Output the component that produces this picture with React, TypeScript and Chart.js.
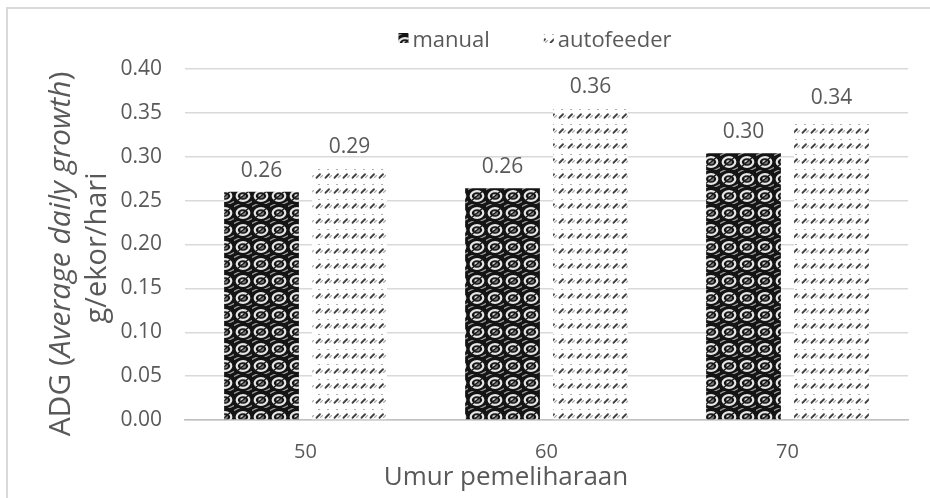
import { useEffect, useRef } from "react";
import { Chart, registerables } from "chart.js";

Chart.register(...registerables);

const categories = ["50", "60", "70"];
const seriesNames = ["manual", "autofeeder"];
const manualValues = [0.26, 0.264, 0.304];
const autofeederValues = [0.287, 0.356, 0.343];
const yMin = 0;
const yMax = 0.4;
const yStep = 0.05;
const xTitle = "Umur pemeliharaan";
const yTitleParts = ["ADG (", "Average daily growth", ")"];
const yTitleLine2 = "g/ekor/hari";

const FONT = "'Open Sans', 'Noto Sans', sans-serif";
const TEXT = "#595959";

function makeManualPattern(): CanvasPattern | string {
  const c = document.createElement("canvas");
  c.width = 18;
  c.height = 17;
  const g = c.getContext("2d");
  if (!g) return "#333";
  g.fillStyle = "#141414";
  g.fillRect(0, 0, 18, 17);
  g.strokeStyle = "#e6e6e6";
  g.lineWidth = 2.2;
  g.beginPath();
  g.ellipse(9, 9, 6.3, 4.8, 0, 0, Math.PI * 2);
  g.stroke();
  g.fillStyle = "#7a7a7a";
  g.beginPath();
  g.ellipse(9, 9, 3, 2.3, 0, 0, Math.PI * 2);
  g.fill();
  g.fillStyle = "#f2f2f2";
  g.beginPath();
  g.ellipse(8.3, 8.4, 1.3, 1, 0, 0, Math.PI * 2);
  g.fill();
  g.strokeStyle = "#9a9a9a";
  g.lineWidth = 1.3;
  g.beginPath();
  g.moveTo(-2, 3.5);
  g.lineTo(8, -1.5);
  g.moveTo(10, 18.5);
  g.lineTo(20, 13.5);
  g.stroke();
  g.strokeStyle = "#1a1a1a";
  g.lineWidth = 1.5;
  g.beginPath();
  g.moveTo(2.5, 14.5);
  g.lineTo(15.5, 3.5);
  g.stroke();
  const p = g.createPattern(c, "repeat");
  return p || "#333";
}

function makeAutoPattern(): CanvasPattern | string {
  const c = document.createElement("canvas");
  c.width = 18;
  c.height = 15;
  const g = c.getContext("2d");
  if (!g) return "#eee";
  g.fillStyle = "#ffffff";
  g.fillRect(0, 0, 18, 15);
  g.lineCap = "round";
  const mark = (x: number, y: number, col: string, w: number, len: number) => {
    g.strokeStyle = col;
    g.lineWidth = w;
    g.beginPath();
    g.moveTo(x, y + len / 2);
    g.lineTo(x + len, y - len / 2);
    g.stroke();
  };
  mark(1.5, 11, "#404040", 1.8, 3.5);
  mark(10.5, 11, "#404040", 1.8, 3.5);
  mark(5.5, 11.5, "#aaaaaa", 1.1, 2);
  mark(14.5, 11.5, "#aaaaaa", 1.1, 2);
  g.fillStyle = "#b0b0b0";
  g.fillRect(3, 4, 2, 1);
  g.fillRect(12, 4, 2, 1);
  const p = g.createPattern(c, "repeat");
  return p || "#eee";
}

export default function App() {
  const ref = useRef<HTMLCanvasElement | null>(null);

  useEffect(() => {
    document.body.style.margin = "0";
    const canvas = ref.current;
    if (!canvas) return;
    const manualPat = makeManualPattern();
    const autoPat = makeAutoPattern();

    const framePlugin = {
      id: "frame",
      beforeDraw(chart: any) {
        const ctx = chart.ctx;
        ctx.save();
        ctx.fillStyle = "#ffffff";
        ctx.fillRect(0, 0, chart.width, chart.height);
        ctx.strokeStyle = "#d9d9d9";
        ctx.lineWidth = 2;
        ctx.strokeRect(7, 8, 2000, 2000);
        ctx.restore();
      },
    };

    const labelsPlugin = {
      id: "valueLabels",
      afterDatasetsDraw(chart: any) {
        const ctx = chart.ctx;
        ctx.save();
        ctx.font = `21px ${FONT}`;
        ctx.fillStyle = TEXT;
        ctx.textAlign = "center";
        ctx.textBaseline = "alphabetic";
        chart.data.datasets.forEach((ds: any, i: number) => {
          const meta = chart.getDatasetMeta(i);
          meta.data.forEach((el: any, j: number) => {
            const v = ds.data[j] as number;
            ctx.fillText(v.toFixed(2), el.x, el.y - 15);
          });
        });
        ctx.restore();
      },
    };

    const legendPlugin = {
      id: "customLegend",
      afterDraw(chart: any) {
        const ctx = chart.ctx;
        ctx.save();
        ctx.font = `22px ${FONT}`;
        ctx.textBaseline = "alphabetic";
        ctx.textAlign = "left";
        const box = 10;
        const gap = 4;
        const spacing = 54;
        const fills = [manualPat, autoPat];
        const widths = seriesNames.map((n) => ctx.measureText(n).width);
        const total =
          widths.reduce((a, b) => a + b, 0) + seriesNames.length * (box + gap) + spacing;
        let x = 535 - total / 2;
        const yBase = 47;
        seriesNames.forEach((n, i) => {
          ctx.fillStyle = fills[i];
          ctx.fillRect(x, 33, box, box);
          x += box + gap;
          ctx.fillStyle = TEXT;
          ctx.fillText(n, x, yBase);
          x += widths[i] + spacing;
        });
        ctx.restore();
      },
    };

    const titlesPlugin = {
      id: "axisTitles",
      afterDraw(chart: any) {
        const ctx = chart.ctx;
        ctx.save();
        ctx.fillStyle = TEXT;
        ctx.font = `26px ${FONT}`;
        ctx.textAlign = "center";
        ctx.textBaseline = "alphabetic";
        ctx.fillText(xTitle, 506, 485);
        ctx.restore();

        ctx.save();
        ctx.fillStyle = TEXT;
        ctx.textBaseline = "alphabetic";
        ctx.textAlign = "left";
        const size = 30;
        const fonts = [
          `${size}px ${FONT}`,
          `italic ${size}px ${FONT}`,
          `${size}px ${FONT}`,
        ];
        const ws = yTitleParts.map((t, i) => {
          ctx.font = fonts[i];
          return ctx.measureText(t).width;
        });
        const totalW = ws.reduce((a, b) => a + b, 0);
        ctx.translate(70, 254);
        ctx.rotate(-Math.PI / 2);
        let x = -totalW / 2;
        yTitleParts.forEach((t, i) => {
          ctx.font = fonts[i];
          ctx.fillText(t, x, 0);
          x += ws[i];
        });
        ctx.restore();

        ctx.save();
        ctx.fillStyle = TEXT;
        ctx.font = `29px ${FONT}`;
        ctx.textAlign = "center";
        ctx.textBaseline = "alphabetic";
        ctx.translate(106, 248);
        ctx.rotate(-Math.PI / 2);
        ctx.fillText(yTitleLine2, 0, 0);
        ctx.restore();
      },
    };

    const chart = new Chart(canvas, {
      type: "bar",
      data: {
        labels: categories,
        datasets: [
          {
            label: seriesNames[0],
            data: manualValues,
            backgroundColor: manualPat as any,
            borderWidth: 0,
          },
          {
            label: seriesNames[1],
            data: autofeederValues,
            backgroundColor: autoPat as any,
            borderWidth: 0,
          },
        ],
      },
      options: {
        animation: false,
        responsive: false,
        maintainAspectRatio: false,
        categoryPercentage: 0.73,
        barPercentage: 0.85,
        layout: { padding: { top: 69, right: 22, bottom: 0, left: 0 } },
        plugins: {
          legend: { display: false },
          tooltip: { enabled: false },
        },
        scales: {
          x: {
            grid: { display: false, drawTicks: false },
            border: { display: true, color: "#bfbfbf", width: 1.5 },
            ticks: { color: TEXT, font: { family: FONT, size: 20 }, padding: 20 },
            title: { display: false },
            afterFit: (s: any) => {
              s.height = 78;
            },
          },
          y: {
            min: yMin,
            max: yMax,
            ticks: {
              stepSize: yStep,
              color: TEXT,
              font: { family: FONT, size: 21 },
              padding: 23,
              callback: (v: any) => Number(v).toFixed(2),
            },
            grid: { color: "#d9d9d9", lineWidth: 1.5, drawTicks: false },
            border: { display: false },
            afterFit: (s: any) => {
              s.width = 185;
            },
          },
        },
      } as any,
      plugins: [framePlugin, labelsPlugin, legendPlugin, titlesPlugin],
    });

    return () => chart.destroy();
  }, []);

  return (
    <div style={{ width: 930, height: 498 }}>
      <canvas ref={ref} width={930} height={498} style={{ display: "block" }} />
    </div>
  );
}
